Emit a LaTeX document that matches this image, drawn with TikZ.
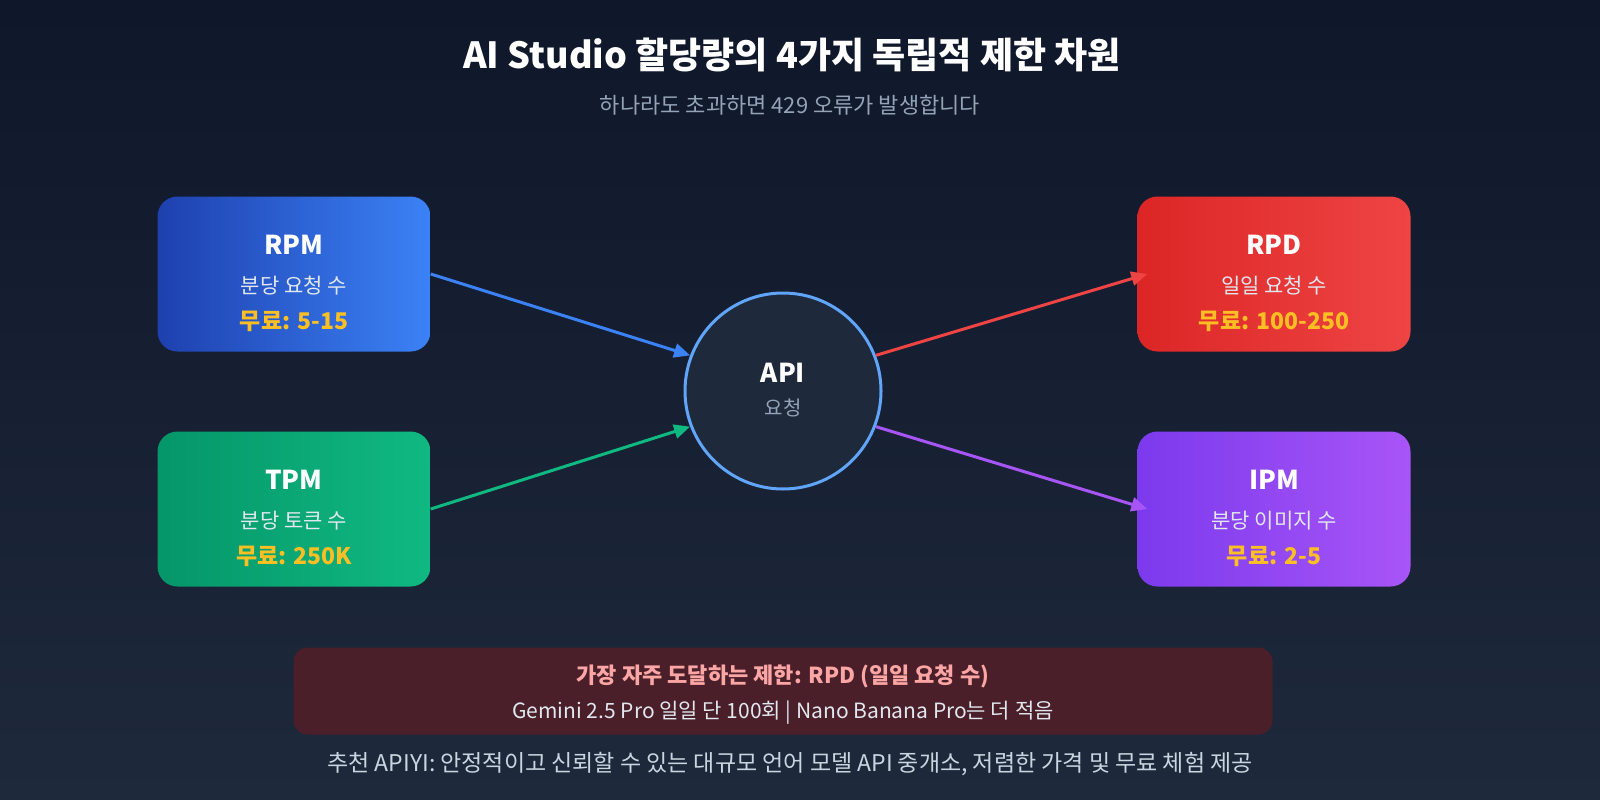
\documentclass[tikz,border=0pt]{standalone}
\usepackage{fontspec}
\setmainfont{Noto Sans CJK KR}
\usetikzlibrary{arrows.meta,shapes.geometric}
\definecolor{bgA}{HTML}{0F172A}\definecolor{bgB}{HTML}{1E293B}
\definecolor{bA1}{HTML}{1E40AF}\definecolor{bA2}{HTML}{3B82F6}
\definecolor{gA1}{HTML}{059669}\definecolor{gA2}{HTML}{10B981}
\definecolor{rA1}{HTML}{DC2626}\definecolor{rA2}{HTML}{EF4444}
\definecolor{pA1}{HTML}{7C3AED}\definecolor{pA2}{HTML}{A855F7}
\definecolor{gold}{HTML}{FBBF24}\definecolor{sub}{HTML}{94A3B8}
\definecolor{lt}{HTML}{E2E8F0}\definecolor{ring}{HTML}{60A5FA}
\definecolor{warnbg}{HTML}{4A1F29}\definecolor{warn}{HTML}{FCA5A5}
\definecolor{foot}{HTML}{CBD5E1}
\begin{document}
\begin{tikzpicture}[x=1pt,y=-1pt,
 box/.style={rounded corners=20pt,minimum width=273pt,minimum height=155pt,shading angle=135,align=center,text=white,inner sep=0pt},
 conn/.style={line width=3pt,-{Triangle[length=16pt,width=14pt]}}]
\shade[top color=bgA,bottom color=bgB] (0,0) rectangle (1600,800);
\node[text=white,font=\fontsize{36}{40}\selectfont\bfseries] (title) at (792,55) {AI Studio 할당량의 4가지 독립적 제한 차원};
\node[text=sub,font=\fontsize{22}{26}\selectfont] (subt) at (790,105) {하나라도 초과하면 429 오류가 발생합니다};
\node[box,left color=bA1,right color=bA2] (rpm) at (294,274) {};
\node[box,left color=gA1,right color=gA2] (tpm) at (294,509) {};
\node[box,left color=rA1,right color=rA2] (rpd) at (1274,274) {};
\node[box,left color=pA1,right color=pA2] (ipm) at (1274,509) {};
\foreach \n/\a/\b/\c in {rpm/RPM/분당 요청 수/무료: 5-15, tpm/TPM/분당 토큰 수/무료: 250K, rpd/RPD/일일 요청 수/무료: 100-250, ipm/IPM/분당 이미지 수/무료: 2-5}{
 \node[text=white,font=\fontsize{26}{30}\selectfont\bfseries] at ([yshift=29pt]\n.center) {\a};
 \node[text=lt,font=\fontsize{21}{24}\selectfont] at ([yshift=-12pt]\n.center) {\b};
 \node[text=gold,font=\fontsize{23}{26}\selectfont\bfseries] at ([yshift=-47pt]\n.center) {\c};
}
\node[circle,minimum size=196pt,fill=bgB,draw=ring,line width=3pt,inner sep=0pt] (api) at (783,391) {};
\node[text=white,font=\fontsize{26}{30}\selectfont\bfseries] at ([yshift=18pt]api.center) {API};
\node[text=sub,font=\fontsize{20}{24}\selectfont] at ([yshift=-17pt]api.center) {요청};
\draw[conn,color=bA2] (rpm.east) -- (api.159);
\draw[conn,color=gA2] (tpm.east) -- (api.201);
\draw[conn,color=rA2] (api.21) -- ([xshift=10pt]rpd.west);
\draw[conn,color=pA2] (api.-21) -- ([xshift=10pt]ipm.west);
\node[rounded corners=14pt,fill=warnbg,minimum width=979pt,minimum height=87pt] (warnbox) at (783,691) {};
\node[text=warn,font=\fontsize{22}{26}\selectfont\bfseries] at ([yshift=15pt]warnbox.center) {가장 자주 도달하는 제한: RPD (일일 요청 수)};
\node[text=lt,font=\fontsize{21}{24}\selectfont] at ([yshift=-22pt]warnbox.center) {Gemini 2.5 Pro 일일 단 100회 | Nano Banana Pro는 더 적음};
\node[text=foot,font=\fontsize{23}{26}\selectfont] (footer) at (790,764) {추천 APIYI: 안정적이고 신뢰할 수 있는 대규모 언어 모델 API 중개소, 저렴한 가격 및 무료 체험 제공};
\pgfresetboundingbox
\useasboundingbox (0,0) rectangle (1600,800);
\end{tikzpicture}
\end{document}
